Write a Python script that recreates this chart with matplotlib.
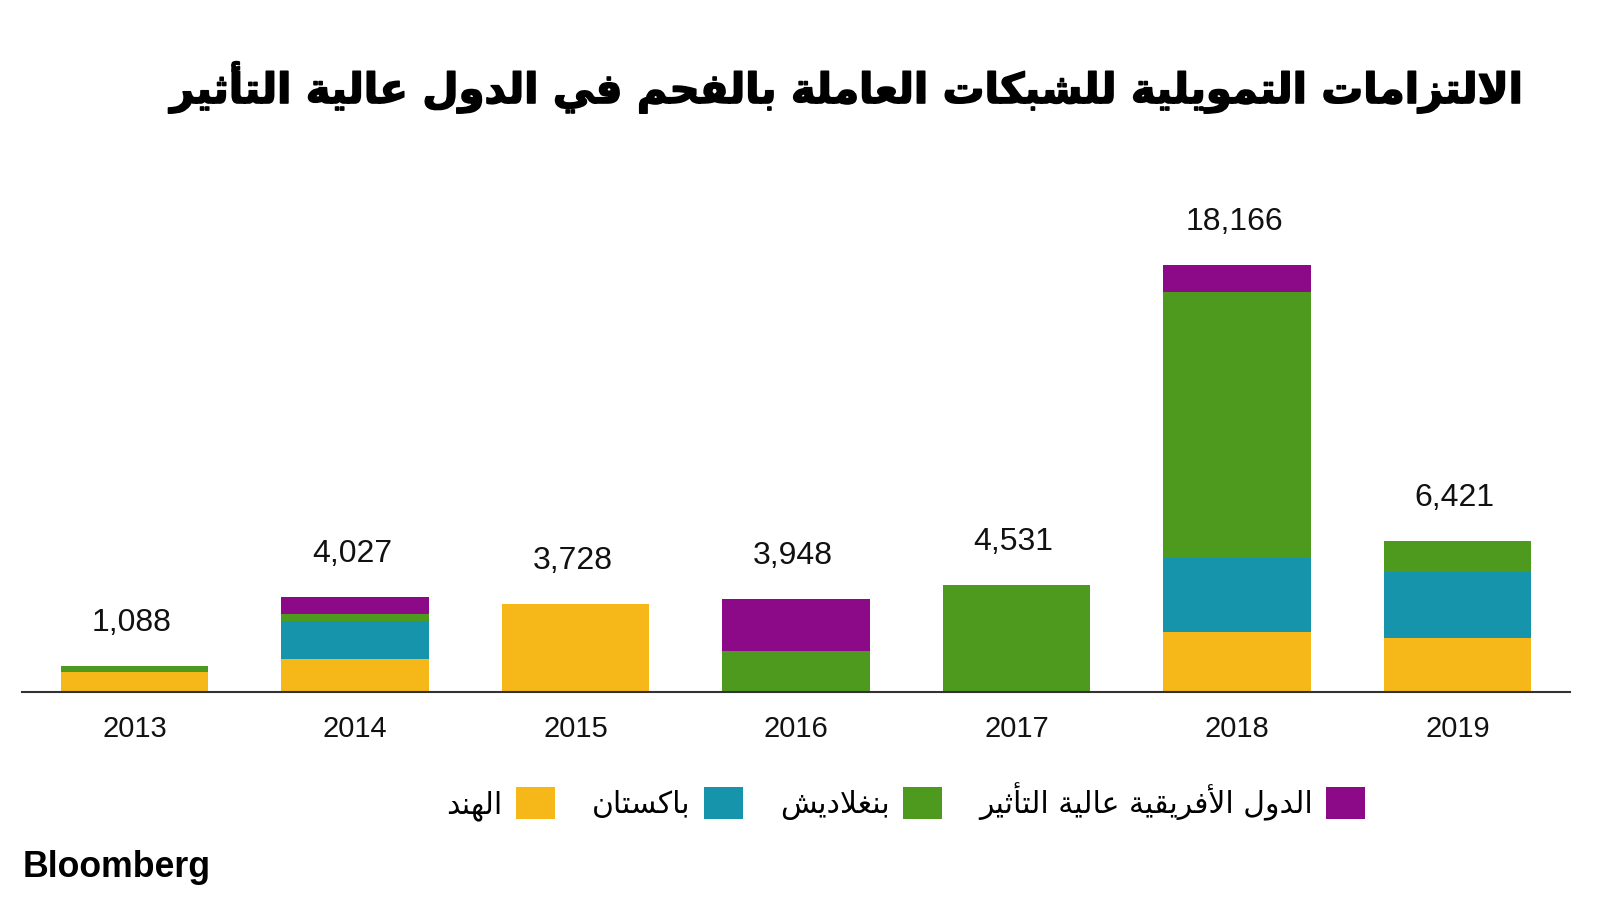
import matplotlib
matplotlib.use("Agg")
import matplotlib.pyplot as plt
import matplotlib.patheffects as pe

# minimal arabic shaping (matplotlib draws glyphs left to right, unjoined)
DUAL = {'ب': 0xFE8F, 'ت': 0xFE95, 'ث': 0xFE99, 'ح': 0xFEA1, 'س': 0xFEB1,
        'ش': 0xFEB5, 'ع': 0xFEC9, 'غ': 0xFECD, 'ف': 0xFED1, 'ق': 0xFED5,
        'ك': 0xFED9, 'ل': 0xFEDD, 'م': 0xFEE1, 'ن': 0xFEE5, 'ه': 0xFEE9,
        'ي': 0xFEF1}
RIGHT = {'ا': 0xFE8D, 'أ': 0xFE83, 'د': 0xFEA9, 'ر': 0xFEAD, 'ز': 0xFEAF,
         'و': 0xFEED, 'ة': 0xFE93, 'لا': 0xFEFB, 'لأ': 0xFEF7}

def shape(s):
    toks = []
    i = 0
    while i < len(s):
        if s[i] == 'ل' and i + 1 < len(s) and s[i + 1] in 'اأ':
            toks.append(s[i:i + 2])
            i += 2
        else:
            toks.append(s[i])
            i += 1
    out = []
    for k, t in enumerate(toks):
        prev = toks[k - 1] if k > 0 else None
        nxt = toks[k + 1] if k + 1 < len(toks) else None
        joins_prev = prev in DUAL
        if t in DUAL:
            joins_next = nxt in DUAL or nxt in RIGHT
            b = DUAL[t]
            if joins_prev and joins_next:
                out.append(chr(b + 3))
            elif joins_next:
                out.append(chr(b + 2))
            elif joins_prev:
                out.append(chr(b + 1))
            else:
                out.append(chr(b))
        elif t in RIGHT:
            out.append(chr(RIGHT[t] + (1 if joins_prev else 0)))
        else:
            out.append(t)
    return ''.join(out[::-1])

title = 'الالتزامات التمويلية للشبكات العاملة بالفحم في الدول عالية التأثير'
years = ['2013', '2014', '2015', '2016', '2017', '2018', '2019']
totals = [1088, 4027, 3728, 3948, 4531, 18166, 6421]
india = [830, 1392, 3728, 0, 0, 2554, 2271]
pakistan = [0, 1624, 0, 0, 0, 3150, 2807]
bangladesh = [258, 291, 0, 1715, 4531, 11298, 1343]
africa = [0, 720, 0, 2233, 0, 1164, 0]
names = ['الهند', 'باكستان', 'بنغلاديش', 'الدول الأفريقية عالية التأثير']
colors = ['#F6B819', '#1594AC', '#4E9A1F', '#8C0A87']

fig = plt.figure(figsize=(16, 9), dpi=100)
ax = fig.add_axes([0.01375, 0.2314, 0.9675, 0.5186])

x = list(range(len(years)))
bottom = [0] * len(years)
for vals, name, c in zip([india, pakistan, bangladesh, africa], names, colors):
    ax.bar(x, vals, 0.667, bottom=bottom, color=c, label=shape(name))
    bottom = [b + v for b, v in zip(bottom, vals)]

for xi, t in zip(x, totals):
    ax.annotate(f'{t:,}', (xi, t), xytext=(-2, 31), textcoords='offset points',
                ha='center', va='center', fontsize=23, family='Liberation Sans',
                color='#111111')

ax.set_xlim(-0.51, 6.51)
ax.set_ylim(0, 19870)
ax.set_xticks(x)
ax.set_xticklabels(years, fontsize=21, family='Liberation Sans', color='#111111')
ax.tick_params(axis='x', length=0, pad=17)
ax.set_yticks([])
for s in ['top', 'right', 'left']:
    ax.spines[s].set_visible(False)
ax.spines['bottom'].set_color('#333333')
ax.spines['bottom'].set_linewidth(1.5)

leg = ax.legend(loc='center', bbox_to_anchor=(0.566, 0.1094), bbox_transform=fig.transFigure,
                ncol=4, frameon=False, markerfirst=False, handlelength=1.3, handleheight=1.3,
                handletextpad=0.45, columnspacing=1.25, prop={'family': 'DejaVu Sans', 'size': 21.5})

t = fig.text(0.951, 0.903, shape(title), ha='right', va='center', fontsize=40,
             family='DejaVu Sans', weight='bold', color='#000000',
             path_effects=[pe.withStroke(linewidth=1.2, foreground='#000000')])
fig.canvas.draw()
w = t.get_window_extent().width
t.set_fontsize(40 * 1352 / w)

fig.text(0.014, 0.036, 'Bloomberg', ha='left', va='center', fontsize=25.7,
         family='Liberation Sans', weight='bold', color='#000000')

fig.savefig('out.png', dpi=100)
